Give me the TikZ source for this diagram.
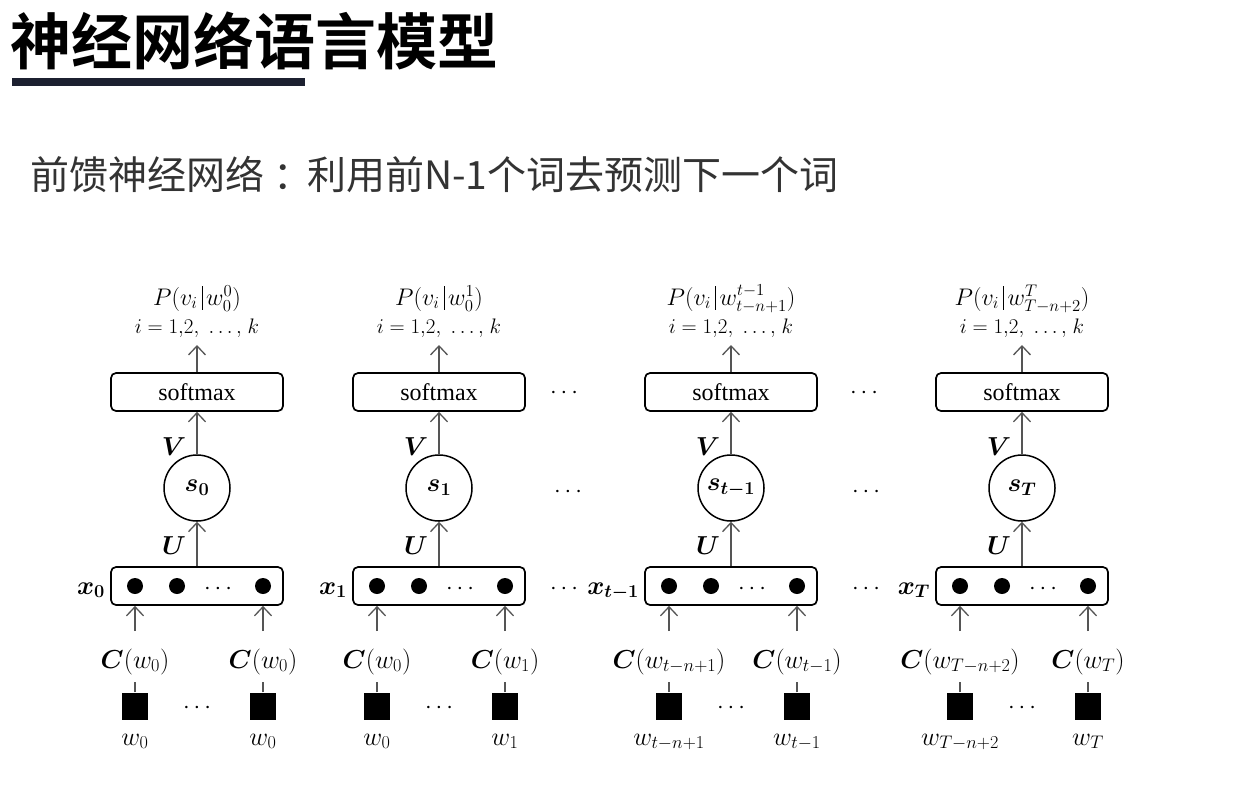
\RequirePackage{fix-cm}
\documentclass[tikz,border=0pt]{standalone}
\usepackage{fontspec}
\usepackage{amsmath}
\usepackage{bm}
\setmainfont{Liberation Serif}
\newfontfamily\cjk{Noto Sans CJK SC}
\newfontfamily\cjkb{Noto Sans CJK SC Bold}
\usetikzlibrary{arrows.meta}
\definecolor{barcol}{HTML}{1C2030}
\definecolor{subcol}{HTML}{333333}
\definecolor{arcol}{HTML}{555555}
\newcommand\pbar{\,\vrule height 1.75ex depth 0.45ex width 0.6pt\,}
\tikzset{
  lbl/.style={inner sep=0pt, font=\fontsize{26}{30}\selectfont},
  plbl/.style={inner sep=0pt, anchor=base, font=\fontsize{24}{28}\selectfont},
  ilbl/.style={inner sep=0pt, anchor=base, font=\fontsize{21}{24}\selectfont},
  smbox/.style={draw, line width=1.7pt, rounded corners=5pt, minimum width=172pt, minimum height=38pt, inner sep=0pt, font=\fontsize{24}{28}\selectfont},
  xbox/.style={draw, line width=1.7pt, rounded corners=5pt, minimum width=172pt, minimum height=38pt, inner sep=0pt},
  snode/.style={draw, circle, line width=1.5pt, minimum size=66pt, inner sep=0pt, font=\fontsize{26}{30}\selectfont},
  dotn/.style={fill, circle, minimum size=16pt, inner sep=0pt},
  sqn/.style={fill, minimum width=26pt, minimum height=27pt, inner sep=0pt},
  arr/.style={draw=arcol, line width=1.3pt, -{Straight Barb[length=9pt,width=17pt]}},
  tick/.style={draw=arcol, line width=1.3pt},
  ell/.style={inner sep=0pt, font=\fontsize{24}{28}\selectfont},
}
% #1 prefix, #2 centre x, #3 P label, #4 s label, #5 x label, #6 C left, #7 C right, #8 w left, #9 w right
\newcommand\nncol[9]{%
  \node[plbl] (#1P) at (#2,305) {$#3$};
  \node[ilbl] (#1i) at (#2,333) {$i=1{,}2{,}\;\ldots{,}\;k$};
  \coordinate (#1top) at (#2,345);
  \node[smbox] (#1sm) at (#2,392) {softmax};
  \node[snode] (#1s) at (#2,488) {$\bm{#4}$};
  \node[xbox] (#1x) at (#2,586) {};
  \node[dotn] (#1d1) at ({#2-62},586) {};
  \node[dotn] (#1d2) at ({#2-20},586) {};
  \node[ell] (#1dd) at ({#2+23},589) {$\cdots$};
  \node[dotn] (#1d4) at ({#2+66},586) {};
  \node[lbl, anchor=base east] (#1xl) at ([xshift=-5pt]#1x.west |- 0,594) {$\bm{#5}$};
  \node[lbl, anchor=base] (#1V) at ({#2-23},455) {$\bm{V}$};
  \node[lbl, anchor=base] (#1U) at ({#2-23},554) {$\bm{U}$};
  \node[lbl, anchor=base] (#1Cl) at ({#2-62},668) {$#6$};
  \node[lbl, anchor=base] (#1Cr) at ({#2+66},668) {$#7$};
  \coordinate (#1al) at ({#2-62},631);
  \coordinate (#1ar) at ({#2+66},631);
  \node[sqn] (#1q1) at ({#2-62},706) {};
  \node[sqn] (#1q2) at ({#2+66},706) {};
  \node[ell] (#1qd) at ({#2+2},708) {$\cdots$};
  \node[lbl, anchor=base] (#1wl) at ({#2-62},745) {$#8$};
  \node[lbl, anchor=base] (#1wr) at ({#2+66},745) {$#9$};
  \draw[arr] (#1sm.north) -- (#1top);
  \draw[arr] (#1s.north) -- (#1sm.south);
  \draw[arr] (#1x.north) -- (#1s.south);
  \draw[arr] (#1al) -- (#1al |- #1x.south);
  \draw[arr] (#1ar) -- (#1ar |- #1x.south);
  \draw[tick] (#1q1.north) -- ++(0,10pt);
  \draw[tick] (#1q2.north) -- ++(0,10pt);
}
\begin{document}
\begin{tikzpicture}[x=1pt,y=-1pt]
\useasboundingbox[fill=white] (0,0) rectangle (1246,788);
\node[anchor=base west, inner sep=0pt, font=\cjkb\fontsize{61}{64}\selectfont] (title) at (10,64) {神经网络语言模型};
\fill[barcol] (12,78) rectangle (305,86);
\node[anchor=base west, inner sep=0pt, text=subcol, font=\cjk\fontsize{39}{42}\selectfont] (sub) at (30,189) {前馈神经网络\kern9pt：\kern-5pt利用前N-1个词去预测下一个词};

\nncol{a}{197}{P(v_i\pbar w_0^0)}{s_0}{x_0}{\bm{C}(w_0)}{\bm{C}(w_0)}{w_0}{w_0}
\nncol{b}{439}{P(v_i\pbar w_0^1)}{s_1}{x_1}{\bm{C}(w_0)}{\bm{C}(w_1)}{w_0}{w_1}
\nncol{c}{731}{P(v_i\pbar w_{t-n+1}^{t-1})}{s_{t-1}}{x_{t-1}}{\bm{C}(w_{t-n+1})}{\bm{C}(w_{t-1})}{w_{t-n+1}}{w_{t-1}}
\nncol{d}{1022}{P(v_i\pbar w_{T-n+2}^{T})}{s_T}{x_T}{\bm{C}(w_{T-n+2})}{\bm{C}(w_T)}{w_{T-n+2}}{w_T}

\node[ell] (e1) at (566,393) {$\cdots$};
\node[ell] (e2) at (570,492) {$\cdots$};
\node[ell] (e3) at (566,589) {$\cdots$};
\node[ell] (e4) at (866,393) {$\cdots$};
\node[ell] (e5) at (868,492) {$\cdots$};
\node[ell] (e6) at (868,589) {$\cdots$};
\end{tikzpicture}
\end{document}
